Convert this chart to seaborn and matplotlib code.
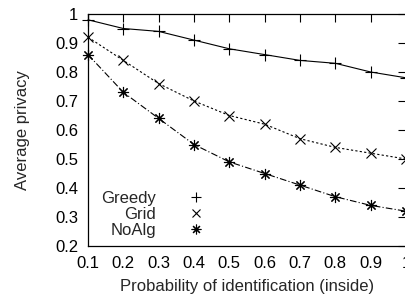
import matplotlib
matplotlib.use("Agg")
import matplotlib.pyplot as plt
from matplotlib.lines import Line2D
import seaborn as sns
import pandas as pd

x_vals = [0.1, 0.2, 0.3, 0.4, 0.5, 0.6, 0.7, 0.8, 0.9, 1.0]
greedy = [0.98, 0.95, 0.94, 0.91, 0.88, 0.86, 0.84, 0.83, 0.80, 0.78]
grid = [0.92, 0.84, 0.76, 0.70, 0.65, 0.62, 0.57, 0.54, 0.52, 0.50]
noalg = [0.86, 0.73, 0.64, 0.55, 0.49, 0.45, 0.41, 0.37, 0.34, 0.32]
series_names = ["Greedy", "Grid", "NoAlg"]
x_ticks = [0.1, 0.2, 0.3, 0.4, 0.5, 0.6, 0.7, 0.8, 0.9, 1.0]
x_ticklabels = ["0.1", "0.2", "0.3", "0.4", "0.5", "0.6", "0.7", "0.8", "0.9", "1"]
y_ticks = [0.2, 0.3, 0.4, 0.5, 0.6, 0.7, 0.8, 0.9, 1.0]
y_ticklabels = ["0.2", "0.3", "0.4", "0.5", "0.6", "0.7", "0.8", "0.9", "1"]

sns.set_style("white")
plt.rcParams['font.family'] = ['Liberation Sans', 'DejaVu Sans']

fig = plt.figure(figsize=(4.06, 2.99), dpi=100)
ax = fig.add_axes([88/406, 1 - 246/299, 1 - 88/406, (246 - 14)/299])

styles = [
    dict(linestyle="-", marker="+", markersize=8),
    dict(linestyle=(0, (2, 2)), marker="x", markersize=6.5),
    dict(linestyle=(0, (6, 2, 1, 2)), marker=(8, 2, 0), markersize=8),
]
values = [greedy, grid, noalg]
for name, vals, st in zip(series_names, values, styles):
    df = pd.DataFrame({"x": x_vals, "y": vals})
    sns.lineplot(data=df, x="x", y="y", ax=ax, color="black", linewidth=0.8,
                 linestyle=st["linestyle"], marker=st["marker"],
                 markersize=st["markersize"], markeredgewidth=0.8,
                 markeredgecolor="black", clip_on=False)

ax.set_xlim(0.1, 1.0)
ax.set_ylim(0.2, 1.0)
ax.set_xticks(x_ticks)
ax.set_xticklabels(x_ticklabels)
ax.set_yticks(y_ticks)
ax.set_yticklabels(y_ticklabels)
ax.tick_params(direction="in", length=6, width=0.8, top=True, right=True,
               labelsize=12, colors="black")
ax.tick_params(axis="x", labeltop=False, pad=7)
ax.tick_params(axis="y", labelright=False, pad=7)
for sp in ax.spines.values():
    sp.set_visible(True)
    sp.set_color("black")
    sp.set_linewidth(0.9)
ax.set_xlabel("Probability of identification (inside)", fontsize=12, labelpad=6)
ax.set_ylabel("Average privacy", fontsize=12, labelpad=18)

handles = [Line2D([], [], linestyle="none", marker=st["marker"], color="black",
                  markersize=st["markersize"] - 1, markeredgewidth=0.8)
           for st in styles]
leg = ax.legend(handles, series_names, loc="lower left", bbox_to_anchor=(0.01, -0.01),
                frameon=False, markerfirst=False, fontsize=12, handlelength=1.0,
                handletextpad=1.9, labelspacing=0.08, borderaxespad=0.2,
                alignment="right")
for t in leg.get_texts():
    t.set_ha("right")
leg._legend_box.align = "right"

fig.savefig("out.png", dpi=100)
